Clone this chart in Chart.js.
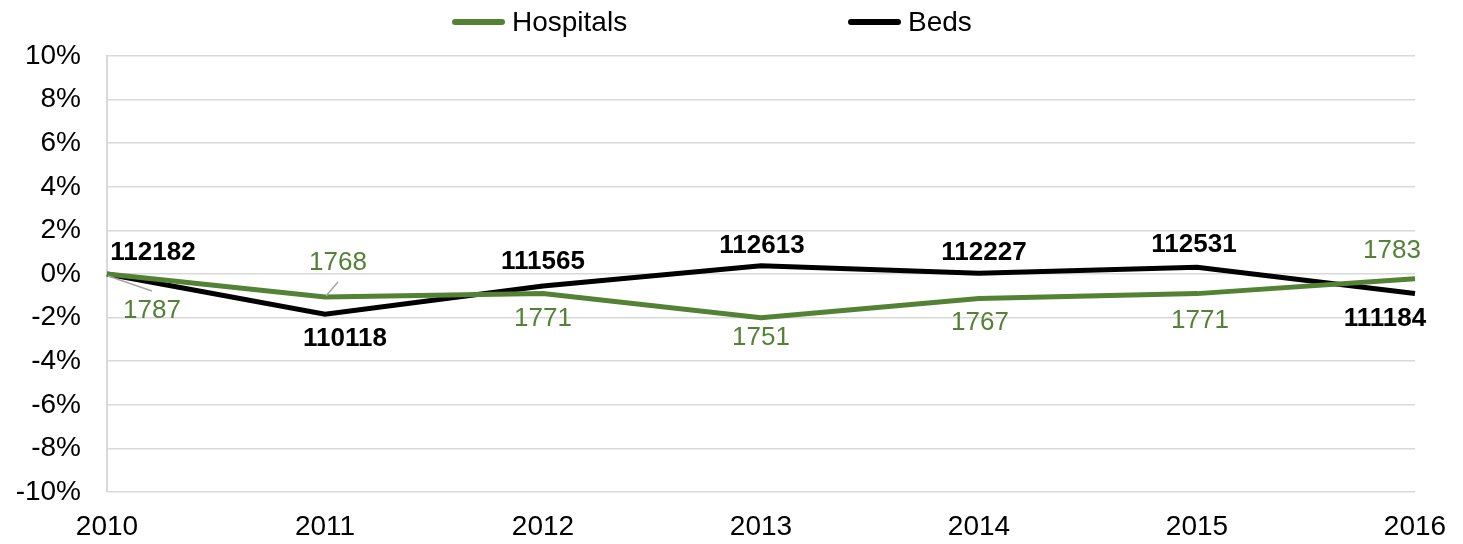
<!DOCTYPE html>
<html>
<head>
<meta charset="utf-8">
<script src="https://cdn.jsdelivr.net/npm/chart.js@4"></script>
<style>
  html, body { margin: 0; padding: 0; background: #fff; }
  #wrap { width: 1463px; height: 544px; }
</style>
</head>
<body>
<div id="wrap"><canvas id="chart" width="1463" height="544"></canvas></div>
<script>
const years = ["2010", "2011", "2012", "2013", "2014", "2015", "2016"];
const hospitals = [1787, 1768, 1771, 1751, 1767, 1771, 1783];
const beds = [112182, 110118, 111565, 112613, 112227, 112531, 111184];
// % change against 2010
const hospitalsPct = [0, -1.06, -0.90, -2.01, -1.12, -0.90, -0.22];
const bedsPct = [0, -1.84, -0.55, 0.38, 0.04, 0.31, -0.89];

const GREEN = "#548235";
const FONT = "'Liberation Sans', Arial, sans-serif";

// label placement (px from the point), [dx, dy, leader]
const hospLabelPos = [[45, 37, 1], [13, -34, 1], [0, 25, 0], [0, 20, 0], [1, 24, 0], [3, 27, 0], [-23, -28, 0]];
const bedsLabelPos = [[46, -21, 0], [20, 25, 0], [0, -24, 0], [1, -20, 0], [5, -20, 0], [-3, -22, 0], [-30, 25, 0]];

const labelPlugin = {
   id: "pointLabels",
   afterDatasetsDraw(chart) {
      const ctx = chart.ctx;
      const sets = [
         { meta: chart.getDatasetMeta(0), vals: hospitals, pos: hospLabelPos, color: GREEN, weight: "normal" },
         { meta: chart.getDatasetMeta(1), vals: beds, pos: bedsLabelPos, color: "#000", weight: "bold" }
      ];
      ctx.save();
      ctx.textAlign = "center";
      ctx.textBaseline = "middle";
      sets.forEach(s => {
         ctx.font = s.weight + " 26px " + FONT;
         s.meta.data.forEach((pt, i) => {
            const p = s.pos[i];
            const lx = pt.x + p[0], ly = pt.y + p[1];
            if (p[2]) {
               ctx.strokeStyle = "#a6a6a6";
               ctx.lineWidth = 1.5;
               ctx.beginPath();
               ctx.moveTo(pt.x + 1, pt.y + (p[1] > 0 ? 2 : -1));
               ctx.lineTo(lx, ly + (p[1] > 0 ? -20 : 19));
               ctx.stroke();
            }
            ctx.fillStyle = s.color;
            ctx.fillText(String(s.vals[i]), lx, ly);
         });
      });
      ctx.restore();
   }
};

const legendPlugin = {
   id: "topLegend",
   afterDraw(chart) {
      const ctx = chart.ctx;
      const items = [
         { text: "Hospitals", color: GREEN, x: 452 },
         { text: "Beds", color: "#000", x: 848 }
      ];
      ctx.save();
      ctx.font = "28px " + FONT;
      ctx.textBaseline = "middle";
      ctx.textAlign = "left";
      items.forEach(it => {
         ctx.strokeStyle = it.color;
         ctx.lineWidth = 6;
         ctx.lineCap = "round";
         ctx.beginPath();
         ctx.moveTo(it.x + 3, 22);
         ctx.lineTo(it.x + 50, 22);
         ctx.stroke();
         ctx.fillStyle = "#000";
         ctx.fillText(it.text, it.x + 60, 23);
      });
      ctx.restore();
   }
};

const chartData = {
   labels: years,
   datasets: [
      {
         label: "Hospitals",
         data: hospitalsPct,
         borderColor: GREEN,
         backgroundColor: GREEN,
         borderWidth: 5,
         pointRadius: 0,
         tension: 0
      },
      {
         label: "Beds",
         data: bedsPct,
         borderColor: "#000",
         backgroundColor: "#000",
         borderWidth: 5,
         pointRadius: 0,
         tension: 0
      }
   ]
};

const config = {
   type: "line",
   data: chartData,
   options: {
      responsive: false,
      animation: false,
      layout: { padding: { top: 56, right: 48, left: 0, bottom: 0 } },
      plugins: {
         legend: { display: false },
         tooltip: { enabled: false }
      },
      scales: {
         x: {
            offset: false,
            grid: { display: false },
            border: { display: false },
            ticks: {
               color: "#000",
               font: { family: FONT, size: 28 },
               maxRotation: 0,
               padding: 10
            },
            afterFit(scale) { scale.height = 52; }
         },
         y: {
            min: -10,
            max: 10,
            grid: { color: "#d9d9d9", lineWidth: 1.5, drawTicks: false },
            border: { display: true, color: "#d9d9d9", width: 2 },
            ticks: {
               stepSize: 2,
               color: "#000",
               font: { family: FONT, size: 28 },
               padding: 26,
               callback: v => v + "%"
            },
            afterFit(scale) { scale.width = 107; }
         }
      }
   },
   plugins: [labelPlugin, legendPlugin]
};

new Chart("chart", config);
</script>
</body>
</html>
